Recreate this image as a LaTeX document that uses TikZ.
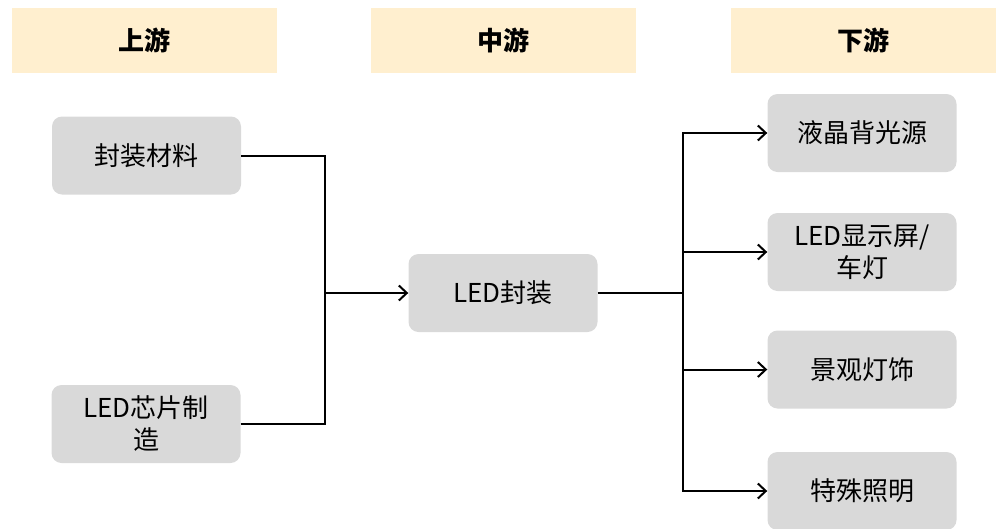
\documentclass[tikz,border=0pt]{standalone}
\usepackage{fontspec}
\setmainfont{Noto Sans CJK SC}
\usepackage{xcolor}
\usepackage{tikz}
\usetikzlibrary{calc, arrows.meta}

\definecolor{headfill}{HTML}{FFEFCF}
\definecolor{boxfill}{HTML}{D9D9D9}

\tikzset{
  stage/.style={fill=headfill, minimum width=265pt, minimum height=65pt,
    inner sep=0pt, font=\fontsize{26}{30}\selectfont\bfseries},
  part/.style={fill=boxfill, rounded corners=10pt, minimum width=189pt,
    minimum height=78pt, inner sep=2pt, align=center,
    font=\fontsize{26}{32}\selectfont},
  link/.style={line width=2pt},
  flow/.style={link, -{Straight Barb[length=8pt, width=15pt]}}
}

\begin{document}
\begin{tikzpicture}[x=1pt, y=-1pt]
  \useasboundingbox (0,0) rectangle (997,528);
  %% stage headers
  \node[stage] (up) at (144.5, 40.5) {上游};
  \node[stage] (mid) at (503, 40.5) {中游};
  \node[stage] (down) at (863, 40.5) {下游};
  %% upstream
  \node[part] (mat) at (146.5, 155.5) {封装材料};
  \node[part] (chip) at (146, 424) {LED芯片制\\造};
  %% midstream
  \node[part] (pkg) at (503, 293) {LED封装};
  %% downstream
  \node[part] (lcd) at (862, 133) {液晶背光源};
  \node[part] (disp) at (862, 252) {LED显示屏/\\车灯};
  \node[part] (deco) at (862, 369.5) {景观灯饰};
  \node[part] (spec) at (862, 491) {特殊照明};
  %% joints
  \coordinate (jl) at (325, 293);
  \coordinate (jr) at (683, 293);
  \draw[link] (mat.east) -| (jl);
  \draw[link] (chip.east) -| (jl);
  \draw[flow] (jl) -- (pkg.west);
  \draw[link] (pkg.east) -- (jr);
  \draw[flow] (jr) |- (lcd.west);
  \draw[flow] (jr) |- (disp.west);
  \draw[flow] (jr) |- (deco.west);
  \draw[flow] (jr) |- (spec.west);
\end{tikzpicture}
\end{document}
